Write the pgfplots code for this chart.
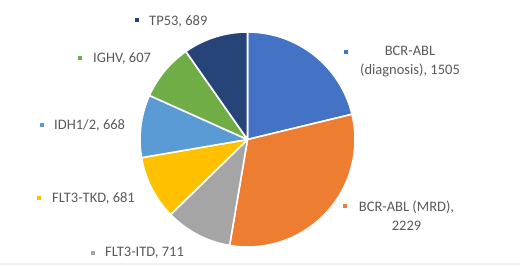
\documentclass[border=0pt]{standalone}
\usepackage{pgfplots}
\pgfplotsset{compat=1.18}
\usepackage{fontspec}
\setmainfont{Carlito}
\definecolor{cA}{HTML}{4472C4}
\definecolor{cB}{HTML}{ED7D31}
\definecolor{cC}{HTML}{A5A5A5}
\definecolor{cD}{HTML}{FFC000}
\definecolor{cE}{HTML}{5B9BD5}
\definecolor{cF}{HTML}{70AD47}
\definecolor{cG}{HTML}{264478}
\definecolor{txt}{HTML}{595959}
\begin{document}
\begin{tikzpicture}
% values
\def\vA{1505}\def\vB{2229}\def\vC{711}\def\vD{681}\def\vE{668}\def\vF{607}\def\vG{689}
\pgfmathsetmacro\tot{\vA+\vB+\vC+\vD+\vE+\vF+\vG}
\pgfmathsetmacro\aA{90}
\pgfmathsetmacro\aB{\aA-360*(\vA/\tot)}
\pgfmathsetmacro\aC{\aB-360*(\vB/\tot)}
\pgfmathsetmacro\aD{\aC-360*(\vC/\tot)}
\pgfmathsetmacro\aE{\aD-360*(\vD/\tot)}
\pgfmathsetmacro\aF{\aE-360*(\vE/\tot)}
\pgfmathsetmacro\aG{\aF-360*(\vF/\tot)}
\pgfmathsetmacro\aH{\aG-360*(\vG/\tot)}
\def\cx{247.5}\def\cy{139.5}\def\r{107.5}
\begin{axis}[width=520bp,height=265bp,scale only axis,hide axis,
  xmin=0,xmax=520,ymin=0,ymax=265,y dir=reverse,clip=false,
  every axis plot/.append style={draw=white,line width=1.6bp,line join=round,samples=80,variable=\t},
  nodes={font=\fontsize{14.5bp}{19bp}\selectfont,text=txt,inner sep=0pt}]
\coordinate (BBa) at (axis cs:0,265);
\coordinate (BBb) at (axis cs:520,0);
\fill[gray!12] (axis cs:0,263) rectangle (axis cs:520,265);
\addplot[fill=cA,domain=\aB:\aA] ({\cx+\r*cos(\t)},{\cy-\r*sin(\t)}) -- (axis cs:\cx,\cy) -- cycle;
\addplot[fill=cB,domain=\aC:\aB] ({\cx+\r*cos(\t)},{\cy-\r*sin(\t)}) -- (axis cs:\cx,\cy) -- cycle;
\addplot[fill=cC,domain=\aD:\aC] ({\cx+\r*cos(\t)},{\cy-\r*sin(\t)}) -- (axis cs:\cx,\cy) -- cycle;
\addplot[fill=cD,domain=\aE:\aD] ({\cx+\r*cos(\t)},{\cy-\r*sin(\t)}) -- (axis cs:\cx,\cy) -- cycle;
\addplot[fill=cE,domain=\aF:\aE] ({\cx+\r*cos(\t)},{\cy-\r*sin(\t)}) -- (axis cs:\cx,\cy) -- cycle;
\addplot[fill=cF,domain=\aG:\aF] ({\cx+\r*cos(\t)},{\cy-\r*sin(\t)}) -- (axis cs:\cx,\cy) -- cycle;
\addplot[fill=cG,domain=\aH:\aG] ({\cx+\r*cos(\t)},{\cy-\r*sin(\t)}) -- (axis cs:\cx,\cy) -- cycle;
% legend-like markers
\addplot[only marks,mark=square*,mark size=2.6bp,draw=none,mark options={draw=none,fill=cA}] coordinates {(346,52)};
\addplot[only marks,mark=square*,mark size=2.6bp,draw=none,mark options={draw=none,fill=cB}] coordinates {(345,206)};
\addplot[only marks,mark=square*,mark size=2.6bp,draw=none,mark options={draw=none,fill=cC}] coordinates {(93,253)};
\addplot[only marks,mark=square*,mark size=2.6bp,draw=none,mark options={draw=none,fill=cD}] coordinates {(39,198)};
\addplot[only marks,mark=square*,mark size=2.6bp,draw=none,mark options={draw=none,fill=cE}] coordinates {(42,125)};
\addplot[only marks,mark=square*,mark size=2.6bp,draw=none,mark options={draw=none,fill=cF}] coordinates {(80,58)};
\addplot[only marks,mark=square*,mark size=2.6bp,draw=none,mark options={draw=none,fill=cG}] coordinates {(137,20)};
% labels
\node[align=center] at (axis cs:410,61.5) {BCR-ABL\\(diagnosis), 1505};
\node[align=center] at (axis cs:406.5,215.5) {BCR-ABL (MRD),\\2229};
\node[anchor=west] at (axis cs:105,253) {FLT3-ITD, 711};
\node[anchor=west] at (axis cs:52,198) {FLT3-TKD, 681};
\node[anchor=west] at (axis cs:54,125) {IDH1/2, 668};
\node[anchor=west] at (axis cs:93,59) {IGHV, 607};
\node[anchor=west] at (axis cs:149,21) {TP53, 689};
\end{axis}
\pgfresetboundingbox
\useasboundingbox (BBa) rectangle (BBb);
\end{tikzpicture}
\end{document}
